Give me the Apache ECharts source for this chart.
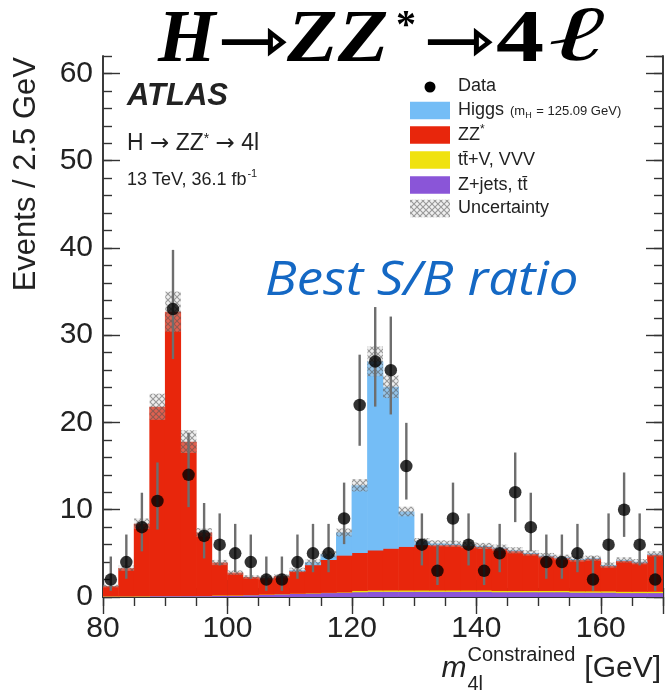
<!DOCTYPE html>
<html>
<head>
<meta charset="utf-8">
<script src="https://cdn.jsdelivr.net/npm/echarts@6/dist/echarts.min.js"></script>
<style>
  html, body { margin: 0; padding: 0; background: #ffffff; }
  #main { width: 670px; height: 697px; }
</style>
</head>
<body>
<div id="main"></div>
<script>
// m4l bin centres [GeV], 2.5 GeV wide bins from 80 to 170
const binCentres = [81.25, 83.75, 86.25, 88.75, 91.25, 93.75, 96.25, 98.75, 101.25, 103.75,
  106.25, 108.75, 111.25, 113.75, 116.25, 118.75, 121.25, 123.75, 126.25, 128.75,
  131.25, 133.75, 136.25, 138.75, 141.25, 143.75, 146.25, 148.75, 151.25, 153.75,
  156.25, 158.75, 161.25, 163.75, 166.25, 168.75];
const binHalfWidth = 1.25;

// Expected events per bin, by process (stacked bottom to top)
const zjets = [0.10, 0.10, 0.10, 0.15, 0.15, 0.15, 0.15, 0.20, 0.20, 0.25,
  0.30, 0.35, 0.40, 0.45, 0.50, 0.55, 0.60, 0.65, 0.65, 0.65,
  0.65, 0.65, 0.65, 0.65, 0.65, 0.60, 0.60, 0.60, 0.60, 0.60,
  0.55, 0.55, 0.55, 0.50, 0.50, 0.50];
const ttv = [0.03, 0.03, 0.03, 0.03, 0.03, 0.03, 0.03, 0.03, 0.03, 0.03,
  0.03, 0.03, 0.03, 0.03, 0.03, 0.03, 0.15, 0.15, 0.15, 0.15,
  0.15, 0.15, 0.15, 0.15, 0.15, 0.15, 0.15, 0.15, 0.15, 0.15,
  0.15, 0.15, 0.15, 0.15, 0.15, 0.15];
const zz = [1.12, 3.17, 8.27, 21.62, 32.52, 17.62, 7.22, 3.72, 2.57, 2.02,
  1.87, 2.02, 2.57, 3.22, 3.77, 4.22, 4.35, 4.60, 4.80, 5.00,
  5.20, 5.20, 5.20, 5.10, 5.00, 4.85, 4.55, 4.25, 3.95, 3.75,
  3.60, 3.70, 2.90, 3.55, 3.35, 4.25];
const higgs = [0, 0, 0, 0, 0, 0, 0, 0, 0, 0,
  0, 0, 0.10, 0.30, 0.60, 2.60, 7.70, 21.60, 18.50, 4.00,
  0.40, 0.15, 0.10, 0.05, 0.05, 0.05, 0.05, 0.05, 0.05, 0.05,
  0.05, 0.05, 0.05, 0.05, 0.05, 0.05];
// Half-width of the total prediction uncertainty band
const uncertainty = [0.15, 0.30, 0.60, 1.50, 2.30, 1.30, 0.50, 0.30, 0.25, 0.20,
  0.20, 0.20, 0.25, 0.30, 0.35, 0.45, 0.70, 1.70, 1.30, 0.55,
  0.35, 0.35, 0.35, 0.35, 0.35, 0.35, 0.35, 0.30, 0.30, 0.30,
  0.30, 0.30, 0.30, 0.30, 0.30, 0.30];

// Observed events and their asymmetric (Poisson) errors
const dataCounts = [2, 4, 8, 11, 33, 14, 7, 6, 5, 4,
  2, 2, 4, 5, 5, 9, 22, 27, 26, 15,
  6, 3, 9, 6, 3, 5, 12, 8, 4, 4,
  5, 2, 6, 10, 6, 2];
const errLo = [1.29, 1.91, 2.77, 3.27, 5.73, 3.70, 2.58, 2.38, 2.16, 1.91,
  1.29, 1.29, 1.91, 2.16, 2.16, 2.94, 4.67, 5.18, 5.08, 3.83,
  2.38, 1.63, 2.94, 2.38, 1.63, 2.16, 3.42, 2.77, 1.91, 1.91,
  2.16, 1.29, 2.38, 3.11, 2.38, 1.29];
const errHi = [2.64, 3.16, 3.95, 4.42, 6.78, 4.83, 3.77, 3.58, 3.38, 3.16,
  2.64, 2.64, 3.16, 3.38, 3.38, 4.11, 5.77, 6.23, 6.14, 4.96,
  3.58, 2.92, 4.11, 3.58, 2.92, 3.38, 4.56, 3.95, 3.16, 3.16,
  3.38, 2.64, 3.58, 4.27, 3.58, 2.64];

// Axis ticks
const xMajorTicks = [80, 100, 120, 140, 160];
const yMajorTicks = [0, 10, 20, 30, 40, 50, 60];

const colors = {
  higgs: '#74bdf6',
  zz: '#e8260c',
  ttv: '#f0e20f',
  zjets: '#8a55d8',
  ink: '#222222'
};

// Cumulative stack levels
const stackOrder = [zjets, ttv, zz, higgs];
const levels = [binCentres.map(() => 0)];
stackOrder.forEach((arr, k) => {
  levels.push(levels[k].map((v, i) => v + arr[i]));
});
const total = levels[levels.length - 1];

// Cross-hatch fill for the uncertainty band
function makeHatch() {
  const c = document.createElement('canvas');
  c.width = 6; c.height = 6;
  const g = c.getContext('2d');
  g.fillStyle = 'rgba(210,210,210,0.35)';
  g.fillRect(0, 0, 6, 6);
  g.strokeStyle = 'rgba(80,80,80,0.55)';
  g.lineWidth = 1.1;
  g.beginPath();
  g.moveTo(0, 0); g.lineTo(6, 6);
  g.moveTo(6, 0); g.lineTo(0, 6);
  g.stroke();
  return c;
}
const hatch = { image: makeHatch(), repeat: 'repeat' };

function histSeries(name, lower, upper, color, overlap) {
  return {
    name: name,
    type: 'custom',
    clip: true,
    data: binCentres.map((c, i) => [c, upper[i]]),
    encode: { x: 0, y: 1 },
    renderItem: function (params, api) {
      const i = params.dataIndex;
      const p0 = api.coord([binCentres[i] - binHalfWidth, lower[i]]);
      const p1 = api.coord([binCentres[i] + binHalfWidth, upper[i]]);
      const h = p0[1] - p1[1];
      if (h <= 0) return null;
      return {
        type: 'rect',
        shape: { x: p0[0] - 0.3, y: p1[1], width: p1[0] - p0[0] + 0.6, height: h + overlap },
        style: { fill: color }
      };
    }
  };
}

const measureCtx = document.createElement('canvas').getContext('2d');
function textWidth(text, font) {
  measureCtx.font = font;
  return measureCtx.measureText(text).width;
}

const chart = echarts.init(document.getElementById('main'), null, { renderer: 'canvas' });

const tickLine = { color: '#333', width: 1.4 };
function xAxisDef(position, interval, len, labels) {
  return {
    type: 'value', min: 80, max: 170, interval: interval, position: position,
    axisLine: { show: true, lineStyle: { color: '#333', width: 1.6 } },
    axisTick: { show: true, inside: true, length: len, lineStyle: tickLine },
    axisLabel: labels ? {
      show: true, fontSize: 30, fontFamily: 'Liberation Sans', color: colors.ink, margin: 17,
      showMaxLabel: false,
      formatter: v => (xMajorTicks.indexOf(v) >= 0 ? String(v) : '')
    } : { show: false },
    splitLine: { show: false }
  };
}
function yAxisDef(position, interval, len, labels) {
  return {
    type: 'value', min: 0, max: 62, interval: interval, position: position,
    axisLine: { show: true, lineStyle: { color: '#333', width: 1.6 } },
    axisTick: { show: true, inside: true, length: len, lineStyle: tickLine },
    axisLabel: labels ? {
      show: true, fontSize: 30, fontFamily: 'Liberation Sans', color: colors.ink, margin: 10,
      showMaxLabel: false,
      formatter: v => (yMajorTicks.indexOf(v) >= 0 ? String(v) : '')
    } : { show: false },
    splitLine: { show: false }
  };
}

const sansFont = 'Liberation Sans';
const graphics = [];

// Big headline: H -> ZZ* -> 4l
const headline = [
  { t: 'H', x: 158, y: 42, size: 74, sx: 1.0, style: 'italic', family: 'Liberation Serif' },
  { t: '⇾', x: 217, y: 46, size: 66, sx: 1.3, style: 'normal', family: 'DejaVu Sans' },
  { t: 'ZZ', x: 287, y: 42, size: 74, sx: 1.12, style: 'italic', family: 'Liberation Serif' },
  { t: '*', x: 396, y: 27, size: 40, sx: 1.0, style: 'normal', family: 'Liberation Serif' },
  { t: '⇾', x: 423, y: 46, size: 66, sx: 1.3, style: 'normal', family: 'DejaVu Sans' },
  { t: '4', x: 496, y: 42, size: 74, sx: 1.3, style: 'normal', family: 'Liberation Serif' },
  { t: 'ℓ', x: 550, y: 40, size: 78, sx: 1.75, style: 'italic', family: 'Liberation Serif' }
];
headline.forEach(p => {
  graphics.push({
    type: 'text', x: p.x, y: p.y, z: 100, scaleX: p.sx,
    style: {
      text: p.t, fill: '#000', align: 'left', verticalAlign: 'middle',
      fontSize: p.size, fontStyle: p.style, fontWeight: 'bold', fontFamily: p.family
    }
  });
});

// Experiment labels
graphics.push(
  { type: 'text', x: 127, y: 96, style: { text: 'ATLAS', fill: colors.ink, fontSize: 31, fontStyle: 'italic', fontWeight: 'bold', fontFamily: sansFont, verticalAlign: 'middle' } },
  {
    type: 'text', x: 127, y: 144,
    style: {
      text: '{a|H }{b|→}{a| ZZ}{s|*}{a| }{b|→}{a| 4l}', fill: colors.ink, verticalAlign: 'middle',
      rich: {
        a: { fontSize: 23, fontFamily: sansFont, fill: colors.ink },
        b: { fontSize: 23, fontFamily: 'DejaVu Sans', fill: colors.ink },
        s: { fontSize: 14, fontFamily: sansFont, fill: colors.ink, verticalAlign: 'top' }
      }
    }
  },
  { type: 'text', x: 127, y: 180, style: { text: '13 TeV, 36.1 fb', fill: colors.ink, fontSize: 18, fontFamily: sansFont, verticalAlign: 'middle' } },
  { type: 'text', x: 127 + textWidth('13 TeV, 36.1 fb', '18px "Liberation Sans"') + 1, y: 174, style: { text: '-1', fill: colors.ink, fontSize: 11, fontFamily: sansFont, verticalAlign: 'middle' } }
);

// Annotation
graphics.push({
  type: 'text', x: 265, y: 281, z: 90, scaleX: 1.1,
  style: { text: 'Best S/B ratio', fill: '#1468c4', fontSize: 48, fontStyle: 'italic', fontFamily: 'Open Sans', verticalAlign: 'middle' }
});

// Legend
const legX = 410, legTextX = 458, legFont = 18;
const legRows = [
  { key: 'data', y: 86, label: 'Data' },
  { key: 'higgs', y: 110.5, label: 'Higgs' },
  { key: 'zz', y: 135, label: 'ZZ' },
  { key: 'ttv', y: 160, label: 'tt\u0304+V, VVV' },
  { key: 'zjets', y: 185, label: 'Z+jets, tt\u0304' },
  { key: 'unc', y: 208.5, label: 'Uncertainty' }
];
legRows.forEach(r => {
  if (r.key === 'data') {
    graphics.push({ type: 'circle', shape: { cx: legX + 20, cy: r.y + 1, r: 5.5 }, style: { fill: '#000' } });
  } else {
    graphics.push({
      type: 'rect', shape: { x: legX, y: r.y - 8.75, width: 40, height: 17.5 },
      style: { fill: r.key === 'unc' ? hatch : colors[r.key] }
    });
  }
  graphics.push({ type: 'text', x: legTextX, y: r.y, style: { text: r.label, fill: colors.ink, fontSize: legFont, fontFamily: sansFont, verticalAlign: 'middle' } });
});
{
  const f = legFont + 'px "Liberation Sans"';
  const hx = legTextX + textWidth('Higgs', f) + 6;
  const wOpen = textWidth('(m', '13px "Liberation Sans"');
  const wSub = textWidth('H', '9px "Liberation Sans"');
  graphics.push(
    { type: 'text', x: hx, y: 111, style: { text: '(m', fill: colors.ink, fontSize: 13, fontFamily: sansFont, verticalAlign: 'middle' } },
    { type: 'text', x: hx + wOpen, y: 116, style: { text: 'H', fill: colors.ink, fontSize: 9, fontFamily: sansFont, verticalAlign: 'middle' } },
    { type: 'text', x: hx + wOpen + wSub + 1, y: 111, style: { text: ' = 125.09 GeV)', fill: colors.ink, fontSize: 13, fontFamily: sansFont, verticalAlign: 'middle' } }
  );
  const zx = legTextX + textWidth('ZZ', f);
  graphics.push({ type: 'text', x: zx, y: 130, style: { text: '*', fill: colors.ink, fontSize: 12, fontFamily: sansFont, verticalAlign: 'middle' } });
}

// Axis titles
graphics.push({
  type: 'text', x: 26, y: 57, rotation: Math.PI / 2,
  style: { text: 'Events / 2.5 GeV', fill: colors.ink, fontSize: 31, fontFamily: sansFont, align: 'right', verticalAlign: 'middle' }
});
{
  const gevW = textWidth('[GeV]', '30px "Liberation Sans"');
  const supW = textWidth('Constrained', '20px "Liberation Sans"');
  const mW = textWidth('m', 'italic 30px "Liberation Sans"');
  const right = 661;
  const gx = right - gevW;
  const sx = gx - 9 - supW;
  const mx = sx - mW - 1;
  graphics.push(
    { type: 'text', x: gx, y: 669, style: { text: '[GeV]', fill: colors.ink, fontSize: 30, fontFamily: sansFont, verticalAlign: 'middle' } },
    { type: 'text', x: sx, y: 655, style: { text: 'Constrained', fill: colors.ink, fontSize: 20, fontFamily: sansFont, verticalAlign: 'middle' } },
    { type: 'text', x: sx, y: 684, style: { text: '4l', fill: colors.ink, fontSize: 20, fontFamily: sansFont, verticalAlign: 'middle' } },
    { type: 'text', x: mx, y: 669, style: { text: 'm', fill: colors.ink, fontSize: 30, fontStyle: 'italic', fontFamily: sansFont, verticalAlign: 'middle' } }
  );
}

const option = {
  animation: false,
  backgroundColor: '#ffffff',
  grid: { left: 103, right: 7, top: 56, bottom: 100, outerBoundsMode: 'none', containLabel: false },
  xAxis: [
    xAxisDef('bottom', 20, 17, true),
    xAxisDef('bottom', 5, 9, false),
    xAxisDef('top', 20, 17, false),
    xAxisDef('top', 5, 9, false)
  ],
  yAxis: [
    yAxisDef('left', 10, 17, true),
    yAxisDef('left', 2, 9, false),
    yAxisDef('right', 10, 17, false),
    yAxisDef('right', 2, 9, false)
  ],
  series: [
    histSeries('Z+jets, tt̄', levels[0], levels[1], colors.zjets, 0),
    histSeries('tt̄+V, VVV', levels[1], levels[2], colors.ttv, 0.5),
    histSeries('ZZ*', levels[2], levels[3], colors.zz, 0.5),
    histSeries('Higgs', levels[3], levels[4], colors.higgs, 0.5),
    {
      name: 'Uncertainty',
      type: 'custom',
      clip: true,
      data: binCentres.map((c, i) => [c, total[i]]),
      encode: { x: 0, y: 1 },
      renderItem: function (params, api) {
        const i = params.dataIndex;
        const p0 = api.coord([binCentres[i] - binHalfWidth, total[i] - uncertainty[i]]);
        const p1 = api.coord([binCentres[i] + binHalfWidth, total[i] + uncertainty[i]]);
        return {
          type: 'rect',
          shape: { x: p0[0], y: p1[1], width: p1[0] - p0[0], height: p0[1] - p1[1] },
          style: { fill: hatch }
        };
      }
    },
    {
      name: 'Data errors',
      type: 'custom',
      clip: true,
      data: binCentres.map((c, i) => [c, dataCounts[i]]),
      encode: { x: 0, y: 1 },
      renderItem: function (params, api) {
        const i = params.dataIndex;
        const top = api.coord([binCentres[i], dataCounts[i] + errHi[i]]);
        const bot = api.coord([binCentres[i], dataCounts[i] - errLo[i]]);
        return {
          type: 'line',
          shape: { x1: top[0], y1: top[1], x2: bot[0], y2: bot[1] },
          style: { stroke: '#6e6e6e', lineWidth: 2.4 }
        };
      }
    },
    {
      name: 'Data',
      type: 'scatter',
      symbol: 'circle',
      symbolSize: 12.5,
      itemStyle: { color: '#000' },
      data: binCentres.map((c, i) => [c, dataCounts[i]])
    }
  ],
  graphic: graphics
};

chart.setOption(option);
</script>
</body>
</html>
